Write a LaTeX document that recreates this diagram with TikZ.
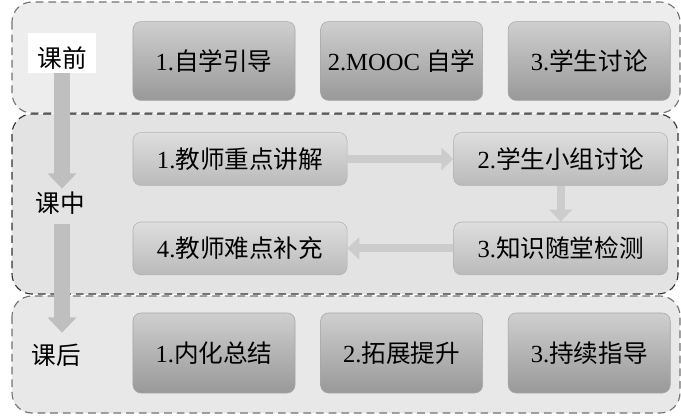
\documentclass[tikz,border=0pt]{standalone}
\usepackage{fontspec}
\setmainfont{Liberation Serif}
\newfontfamily\cjk{Noto Sans CJK SC}
\usetikzlibrary{arrows.meta, positioning}

\begin{document}
\begin{tikzpicture}[
        x=0.025cm, y=-0.025cm,
        node distance=0.625cm,
        panel/.style={fill=black!7, draw=black!55, line width=0.8pt, dash pattern=on 5.5pt off 3.5pt, rounded corners=0.5cm},
        stagebox/.style={rectangle, draw=black!35, rounded corners=0.2cm, top color=black!19, bottom color=black!40, minimum width=4.05cm, minimum height=1.97cm, font=\fontsize{17.5}{20}\selectfont},
        classbox/.style={rectangle, draw=black!30, rounded corners=0.2cm, top color=black!13, bottom color=black!27, minimum width=5.35cm, minimum height=1.32cm, font=\fontsize{17.5}{20}\selectfont},
        stagelabel/.style={inner sep=2pt, font=\fontsize{17.5}{20}\selectfont},
        flow/.style={-{Triangle[width=0.55cm, length=0.3cm]}, line width=0.2cm, draw=black!20},
        timeflow/.style={-{Triangle[width=0.7cm, length=0.38cm]}, line width=0.375cm, draw=black!25}
    ]

    \useasboundingbox (0,0) rectangle (681,417);

    % The Stage Panels
    \draw [panel] (12,2) rectangle (680,113);
    \draw [panel, fill=black!9] (12,296) rectangle (680,413);
    \draw [panel, fill=black!11, draw=black!80] (12,114) rectangle (678,294);

    % Before Class
    \node (pre1) [stagebox] at (214,61) {1.{\cjk 自学引导}};
    \node (pre2) [stagebox, right=of pre1] {2.MOOC {\cjk 自学}};
    \node (pre3) [stagebox, right=of pre2] {3.{\cjk 学生讨论}};

    % In Class
    \node (in1) [classbox] at (240,159) {1.{\cjk 教师重点讲解}};
    \node (in2) [classbox, right=2.65cm of in1] {2.{\cjk 学生小组讨论}};
    \node (in3) [classbox, below=0.9cm of in2] {3.{\cjk 知识随堂检测}};
    \node (in4) [classbox, left=2.65cm of in3] {4.{\cjk 教师难点补充}};

    % After Class
    \node (post1) [stagebox, minimum height=2cm] at (214,353) {1.{\cjk 内化总结}};
    \node (post2) [stagebox, minimum height=2cm, right=of post1] {2.{\cjk 拓展提升}};
    \node (post3) [stagebox, minimum height=2cm, right=of post2] {3.{\cjk 持续指导}};

    % The Stage Labels
    \node (pre) [stagelabel, anchor=base, fill=white, inner sep=0pt, text height=0.85cm, text depth=0.15cm, minimum width=1.675cm] at (62,67) {\cjk 课前};
    \node (mid) [stagelabel] at (60,203) {\cjk 课中};
    \node (post) [stagelabel] at (56,355) {\cjk 课后};

    % The Downward Time Arrows
    \draw [timeflow] (pre.south) -- (pre.south |- mid.north);
    \draw [timeflow, shorten <=0.17cm, shorten >=0.2cm] (pre.south |- mid.south) -- (pre.south |- post.north);

    % The In-Class Arrows
    \draw [flow] (in1) -- (in2);
    \draw [flow] (in2) -- (in3);
    \draw [flow] (in3) -- (in4);

\end{tikzpicture}
\end{document}
